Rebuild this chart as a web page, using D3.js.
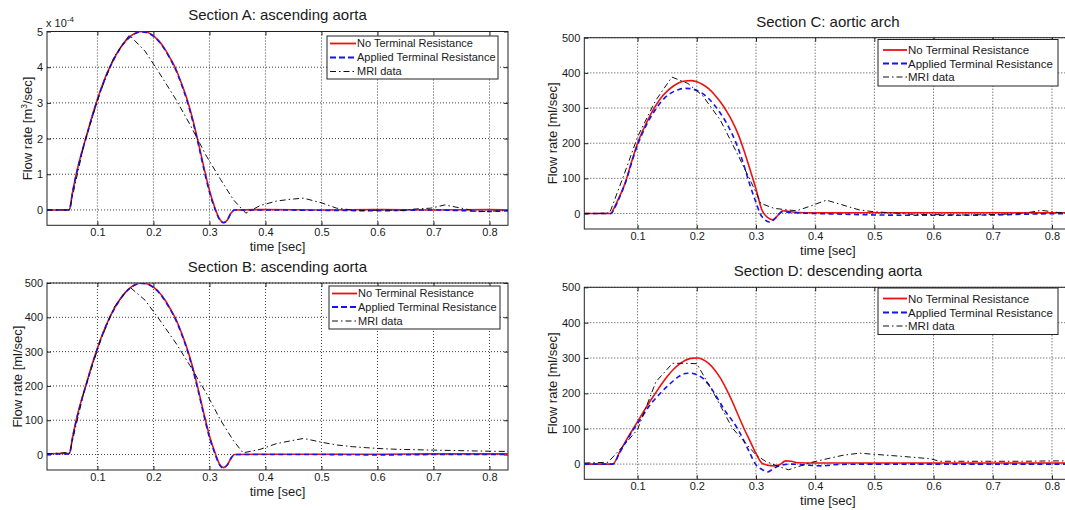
<!DOCTYPE html>
<html><head><meta charset="utf-8">
<script src="https://cdn.jsdelivr.net/npm/d3@7"></script>
<style>
body{margin:0;background:#fff}
svg{display:block}
text{font-family:"Liberation Sans",Arial,Helvetica,sans-serif;fill:#1a1a1a}
</style>
</head><body>
<svg id="chart" width="1065" height="510"></svg>
<script>
// ---------------- DATA ----------------
// Section A: flow rate in units of 1e-4 m^3/sec
const secA_noTR = [[0.01,0],[0.05,0],[0.055,0.45],[0.06,0.85],[0.07,1.5],[0.08,2.05],[0.09,2.6],[0.10,3.1],[0.11,3.55],[0.12,3.93],[0.13,4.25],[0.14,4.52],[0.15,4.73],[0.16,4.88],[0.17,4.97],[0.18,5.0],[0.19,4.97],[0.20,4.88],[0.21,4.73],[0.22,4.52],[0.23,4.25],[0.24,3.95],[0.25,3.55],[0.26,3.1],[0.27,2.55],[0.28,1.9],[0.29,1.2],[0.30,0.55],[0.31,0.05],[0.318,-0.25],[0.325,-0.35],[0.332,-0.28],[0.338,-0.1],[0.345,0],[0.4,0.01],[0.5,0],[0.6,0.01],[0.7,0],[0.8,0.01],[0.833,0]];
const secA_appTR = [[0.01,0],[0.05,0],[0.055,0.43],[0.06,0.83],[0.07,1.48],[0.08,2.03],[0.09,2.58],[0.10,3.08],[0.11,3.53],[0.12,3.92],[0.13,4.24],[0.14,4.51],[0.15,4.72],[0.16,4.87],[0.17,4.96],[0.18,4.99],[0.19,4.96],[0.20,4.87],[0.21,4.72],[0.22,4.5],[0.23,4.23],[0.24,3.92],[0.25,3.52],[0.26,3.06],[0.27,2.5],[0.28,1.85],[0.29,1.15],[0.30,0.5],[0.31,0.02],[0.318,-0.27],[0.325,-0.36],[0.332,-0.28],[0.338,-0.1],[0.345,0],[0.4,0],[0.5,-0.01],[0.6,-0.02],[0.7,0],[0.75,-0.02],[0.8,-0.04],[0.833,-0.02]];
const secA_mri = [[0.01,0],[0.03,0],[0.05,0],[0.077,1.9],[0.105,3.3],[0.13,4.3],[0.157,4.9],[0.185,4.45],[0.21,3.85],[0.24,3.1],[0.265,2.4],[0.295,1.5],[0.32,0.85],[0.343,0.28],[0.365,-0.09],[0.39,0.12],[0.42,0.25],[0.445,0.3],[0.468,0.33],[0.50,0.2],[0.527,0.05],[0.555,0],[0.58,-0.02],[0.61,0],[0.64,-0.02],[0.67,0.03],[0.695,0.05],[0.72,0.14],[0.75,0.05],[0.78,-0.05],[0.81,-0.03],[0.833,-0.02]];

// Section B: ml/sec
const secB_noTR = [[0.01,2],[0.03,3],[0.05,3],[0.055,45],[0.06,85],[0.07,150],[0.08,205],[0.09,260],[0.10,310],[0.11,355],[0.12,393],[0.13,425],[0.14,452],[0.15,473],[0.16,488],[0.17,497],[0.18,500],[0.19,497],[0.20,488],[0.21,473],[0.22,452],[0.23,425],[0.24,395],[0.25,355],[0.26,310],[0.27,255],[0.28,190],[0.29,120],[0.30,55],[0.31,5],[0.318,-28],[0.325,-38],[0.332,-30],[0.338,-12],[0.345,0],[0.4,1],[0.5,1],[0.6,1],[0.7,2],[0.8,2],[0.833,2]];
const secB_appTR = [[0.01,1],[0.03,2],[0.05,2],[0.055,43],[0.06,83],[0.07,148],[0.08,203],[0.09,258],[0.10,308],[0.11,353],[0.12,392],[0.13,424],[0.14,451],[0.15,472],[0.16,487],[0.17,496],[0.18,499],[0.19,496],[0.20,487],[0.21,472],[0.22,450],[0.23,423],[0.24,392],[0.25,352],[0.26,306],[0.27,250],[0.28,185],[0.29,115],[0.30,50],[0.31,2],[0.318,-30],[0.325,-39],[0.332,-30],[0.338,-12],[0.345,0],[0.4,0],[0.5,0],[0.6,-1],[0.7,0],[0.8,0],[0.833,0]];
const secB_mri = [[0.01,2],[0.03,4],[0.045,6],[0.05,3],[0.077,190],[0.105,330],[0.13,430],[0.158,488],[0.185,450],[0.21,395],[0.24,325],[0.265,260],[0.294,180],[0.32,100],[0.343,40],[0.36,5],[0.39,15],[0.42,32],[0.445,40],[0.468,47],[0.50,36],[0.527,28],[0.555,23],[0.58,20],[0.61,17],[0.64,15],[0.67,14],[0.70,13],[0.73,12],[0.76,11],[0.79,10],[0.833,9]];

// Section C: ml/sec
const secC_noTR = [[0.01,0],[0.055,0],[0.06,15],[0.07,50],[0.08,92],[0.09,148],[0.10,200],[0.11,240],[0.12,275],[0.13,305],[0.14,330],[0.15,348],[0.16,362],[0.17,372],[0.18,377],[0.19,378],[0.20,375],[0.21,367],[0.22,355],[0.23,338],[0.24,317],[0.25,292],[0.26,262],[0.27,225],[0.28,178],[0.29,125],[0.30,70],[0.31,10],[0.32,-12],[0.329,-18],[0.337,-5],[0.345,8],[0.355,6],[0.37,3],[0.4,2],[0.5,2],[0.6,2],[0.7,2],[0.8,2],[0.833,2]];
const secC_appTR = [[0.01,0],[0.055,0],[0.06,12],[0.07,48],[0.08,90],[0.09,145],[0.10,195],[0.11,235],[0.12,268],[0.13,295],[0.14,318],[0.15,335],[0.16,346],[0.17,353],[0.18,356],[0.19,355],[0.20,350],[0.21,341],[0.22,327],[0.23,308],[0.24,285],[0.25,258],[0.26,225],[0.27,185],[0.28,135],[0.29,80],[0.30,32],[0.307,0],[0.315,-18],[0.324,-25],[0.333,-12],[0.345,5],[0.36,3],[0.4,0],[0.45,-2],[0.5,-4],[0.6,-5],[0.7,-4],[0.78,-1],[0.833,0]];
const secC_mri = [[0.01,0],[0.03,0],[0.053,2],[0.077,110],[0.10,218],[0.13,320],[0.158,388],[0.185,370],[0.21,335],[0.24,265],[0.27,165],[0.301,57],[0.308,29],[0.33,15],[0.354,10],[0.369,8],[0.39,20],[0.419,38],[0.445,25],[0.475,10],[0.50,5],[0.53,2],[0.56,-2],[0.60,-3],[0.65,-4],[0.70,-3],[0.75,0],[0.782,9],[0.81,3],[0.833,2]];

// Section D: ml/sec
const secD_noTR = [[0.01,0],[0.058,0],[0.07,35],[0.08,65],[0.09,93],[0.10,120],[0.11,148],[0.12,175],[0.13,200],[0.14,225],[0.15,248],[0.16,267],[0.17,282],[0.18,293],[0.19,299],[0.20,300],[0.21,296],[0.22,285],[0.23,267],[0.24,243],[0.25,212],[0.26,177],[0.27,138],[0.28,100],[0.29,65],[0.30,30],[0.31,3],[0.32,-3],[0.33,-5],[0.34,-2],[0.35,9],[0.36,8],[0.37,4],[0.4,3],[0.5,3],[0.6,3],[0.7,3],[0.8,3],[0.833,3]];
const secD_appTR = [[0.01,0],[0.058,0],[0.07,33],[0.08,62],[0.09,90],[0.10,115],[0.11,140],[0.12,165],[0.13,185],[0.14,203],[0.15,220],[0.16,235],[0.17,248],[0.18,256],[0.19,257],[0.20,253],[0.21,243],[0.22,225],[0.23,200],[0.24,172],[0.25,145],[0.26,123],[0.27,97],[0.28,65],[0.29,30],[0.30,-2],[0.31,-15],[0.32,-22],[0.33,-12],[0.34,-4],[0.36,0],[0.38,-2],[0.41,-5],[0.44,-1],[0.5,0],[0.6,0],[0.7,0],[0.8,0],[0.833,0]];
const secD_mri = [[0.01,3],[0.03,4],[0.05,5],[0.075,50],[0.10,98],[0.131,233],[0.159,285],[0.185,285],[0.20,284],[0.23,196],[0.26,102],[0.30,26],[0.316,8],[0.34,-8],[0.355,-16],[0.394,5],[0.42,15],[0.447,25],[0.475,31],[0.497,28],[0.53,24],[0.56,20],[0.595,15],[0.61,8],[0.65,8],[0.70,8],[0.75,8],[0.80,9],[0.833,9]];

const xTicks = [0.1,0.2,0.3,0.4,0.5,0.6,0.7,0.8];
const yTicksA = [0,1,2,3,4,5];
const yTicksMl = [0,100,200,300,400,500];
const seriesNames = ["No Terminal Resistance","Applied Terminal Resistance","MRI data"];
const panelTitles = ["Section A: ascending aorta","Section B: ascending aorta","Section C: aortic arch","Section D: descending aorta"];

// ---------------- LAYOUT / STYLE ----------------
const styles = [
  {stroke:"#ee1111", width:1.6, dash:null, curve:d3.curveMonotoneX},
  {stroke:"#1414ee", width:1.6, dash:"5,3.5", curve:d3.curveMonotoneX},
  {stroke:"#111111", width:1.0, dash:"6,3,1.5,3", curve:d3.curveLinear}
];

const panels = [
  {title:panelTitles[0], data:[secA_noTR,secA_appTR,secA_mri], yDomain:[-0.43,5], yTicks:yTicksA, m3:true,
   box:{l:47,r:508,t:31.5,b:225.3}, ylabX:27, titleY:20,
   leg:{l:327,r:498,t:36,b:79,rows:[43.5,57.5,71.5],x0:330,x1:356,fs:11}},
  {title:panelTitles[1], data:[secB_noTR,secB_appTR,secB_mri], yDomain:[-45,500], yTicks:yTicksMl,
   box:{l:47,r:508,t:283,b:470}, ylabX:17, titleY:272,
   leg:{l:329,r:500,t:286,b:329,rows:[293.5,307,321],x0:332,x1:357,fs:11}},
  {title:panelTitles[2], data:[secC_noTR,secC_appTR,secC_mri], yDomain:[-44,500], yTicks:yTicksMl,
   box:{l:584.3,r:1071.5,t:37.7,b:229}, ylabX:552, titleY:27,
   leg:{l:878,r:1058,t:39.5,b:86,rows:[50,63.5,77],x0:883,x1:907,fs:11.5}},
  {title:panelTitles[3], data:[secD_noTR,secD_appTR,secD_mri], yDomain:[-43,500], yTicks:yTicksMl,
   box:{l:584.3,r:1071.5,t:287.3,b:479.3}, ylabX:552, titleY:276,
   leg:{l:878,r:1058,t:288,b:334.5,rows:[298.5,312.5,326],x0:883,x1:907,fs:11.5}}
];

const svg = d3.select("#chart");
svg.append("rect").attr("width",1065).attr("height",510).attr("fill","#fff");

panels.forEach((p,pi)=>{
  const b = p.box;
  const x = d3.scaleLinear().domain([0.01,0.833]).range([b.l,b.r]);
  const y = d3.scaleLinear().domain(p.yDomain).range([b.b,b.t]);
  const g = svg.append("g");
  const clipId = "clip"+pi;
  g.append("clipPath").attr("id",clipId).append("rect")
    .attr("x",b.l).attr("y",b.t).attr("width",b.r-b.l).attr("height",b.b-b.t);

  // grid
  const grid = g.append("g").attr("stroke","#1a1a1a").attr("stroke-width",0.9).attr("stroke-dasharray","1,2").attr("opacity",0.9);
  xTicks.forEach(t=>grid.append("line").attr("x1",x(t)).attr("x2",x(t)).attr("y1",b.t).attr("y2",b.b));
  p.yTicks.forEach(t=>grid.append("line").attr("y1",y(t)).attr("y2",y(t)).attr("x1",b.l).attr("x2",b.r));

  // axes (d3 axes, ticks pointing inward)
  const fs = 11;
  const xAx = g.append("g").attr("transform",`translate(0,${b.b})`)
    .call(d3.axisBottom(x).tickValues(xTicks).tickSize(-4).tickPadding(3).tickFormat(d3.format(".1f")));
  const xAxTop = g.append("g").attr("transform",`translate(0,${b.t})`)
    .call(d3.axisTop(x).tickValues(xTicks).tickSize(-4).tickFormat(""));
  const yAx = g.append("g").attr("transform",`translate(${b.l},0)`)
    .call(d3.axisLeft(y).tickValues(p.yTicks).tickSize(-4).tickPadding(4).tickFormat(d3.format("d")));
  const yAxR = g.append("g").attr("transform",`translate(${b.r},0)`)
    .call(d3.axisRight(y).tickValues(p.yTicks).tickSize(-4).tickFormat(""));
  [xAx,xAxTop,yAx,yAxR].forEach(a=>{
    a.select(".domain").remove();
    a.selectAll("line").attr("stroke","#222");
    a.selectAll("text").attr("font-size",fs).attr("fill","#1a1a1a")
      .attr("font-family",'"Liberation Sans",Arial,sans-serif');
  });
  // box
  g.append("rect").attr("x",b.l).attr("y",b.t).attr("width",b.r-b.l).attr("height",b.b-b.t)
    .attr("fill","none").attr("stroke","#222").attr("stroke-width",1);

  // lines
  const lg = g.append("g").attr("clip-path",`url(#${clipId})`);
  p.data.forEach((d,i)=>{
    const s = styles[i];
    const line = d3.line().x(v=>x(v[0])).y(v=>y(v[1])).curve(s.curve);
    lg.append("path").datum(d).attr("d",line).attr("fill","none")
      .attr("stroke",s.stroke).attr("stroke-width",s.width)
      .attr("stroke-dasharray",s.dash).attr("stroke-linejoin","round");
  });

  // title
  g.append("text").attr("x",(b.l+Math.min(b.r,1072))/2).attr("y",p.titleY)
    .attr("text-anchor","middle").attr("font-size",15).text(p.title);
  // x label
  g.append("text").attr("x",(b.l+b.r)/2).attr("y",b.b+25.5)
    .attr("text-anchor","middle").attr("font-size",13).text("time [sec]");
  // y label
  const cy = (b.t+b.b)/2;
  const yl = g.append("text").attr("transform",`translate(${p.ylabX},${cy}) rotate(-90)`)
    .attr("text-anchor","middle").attr("dy","0.35em").attr("font-size",13);
  if(p.m3){
    yl.append("tspan").text("Flow rate [m");
    yl.append("tspan").attr("dy",-5).attr("font-size",8.5).text("3");
    yl.append("tspan").attr("dy",5).text("/sec]");
    const ex = g.append("text").attr("x",b.l-1).attr("y",b.t-5).attr("font-size",11);
    ex.append("tspan").text("x 10");
    ex.append("tspan").attr("dy",-5).attr("font-size",8).text("-4");
  } else {
    yl.text("Flow rate [ml/sec]");
  }

  // legend
  const L = p.leg;
  const leg = g.append("g");
  leg.append("rect").attr("x",L.l).attr("y",L.t).attr("width",L.r-L.l).attr("height",L.b-L.t)
    .attr("fill","#fff").attr("stroke","#222").attr("stroke-width",1);
  seriesNames.forEach((n,i)=>{
    const s = styles[i];
    const ry = L.rows[i];
    leg.append("line").attr("x1",L.x0).attr("x2",L.x1).attr("y1",ry).attr("y2",ry)
      .attr("stroke",s.stroke).attr("stroke-width",i==2?1.1:1.8)
      .attr("stroke-dasharray",i==1?"6,3":(i==2?"6,3,1.5,3":null));
    leg.append("text").attr("x",L.x1+1).attr("y",ry).attr("dy","0.36em")
      .attr("font-size",L.fs).text(n);
  });
});
</script>
</body></html>
